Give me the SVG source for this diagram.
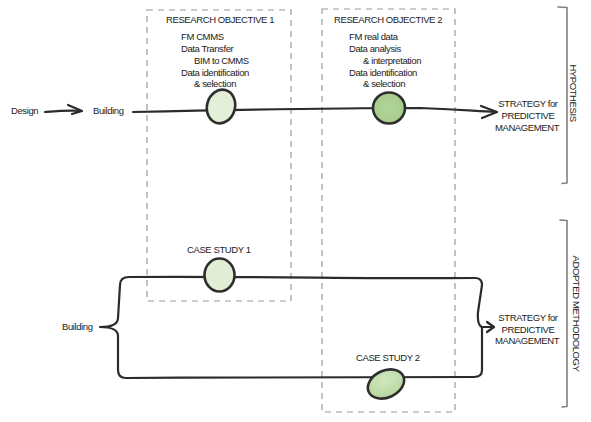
<svg xmlns="http://www.w3.org/2000/svg" width="591" height="422" viewBox="0 0 591 422">
<defs>
<style>
text{font-family:"Liberation Sans",Arial,Helvetica,sans-serif;font-size:9.5px;letter-spacing:-0.4px;fill:#222}
.mid{text-anchor:middle}
.dash{fill:none;stroke:#9a9a9a;stroke-width:1.2;stroke-dasharray:6 5}
.ln{fill:none;stroke:#2b2b2b;stroke-width:2.2;stroke-linecap:round;stroke-linejoin:round}
.br{fill:none;stroke:#808080;stroke-width:1.6;stroke-linecap:round;stroke-linejoin:round}
.node{stroke:#2e2e2e;stroke-width:2.6}
</style>
<radialGradient id="g1" cx="0.5" cy="0.5" r="0.6">
<stop offset="0" stop-color="#b2d59a"/>
<stop offset="1" stop-color="#a6cb8a"/>
</radialGradient>
<radialGradient id="g2" cx="0.55" cy="0.35" r="0.7">
<stop offset="0" stop-color="#d2e8c0"/>
<stop offset="1" stop-color="#b3d59b"/>
</radialGradient>
</defs>
<rect width="591" height="422" fill="#ffffff"/>

<g id="objective1">
<rect class="dash" x="147" y="10" width="144" height="291"/>
<text x="166" y="23">RESEARCH OBJECTIVE 1</text>
<text x="181" y="40">FM CMMS</text>
<text x="181" y="52">Data Transfer</text>
<text x="194" y="64">BIM to CMMS</text>
<text x="181" y="76">Data identification</text>
<text x="194" y="87">&amp; selection</text>
</g>

<g id="objective2">
<rect class="dash" x="322" y="9" width="133" height="403"/>
<text x="334" y="23">RESEARCH OBJECTIVE 2</text>
<text x="349" y="40">FM real data</text>
<text x="349" y="52">Data analysis</text>
<text x="363" y="64">&amp; interpretation</text>
<text x="349" y="76">Data identification</text>
<text x="363" y="87">&amp; selection</text>
</g>

<g id="connectors">
<path class="ln" d="M45,112 C58,111 70,110 81,111"/>
<path class="ln" d="M68,105 L82,111 L72,114"/>
<path class="ln" d="M133,112 C220,110 320,108 420,108 C450,109 475,111 495,112"/>
<path class="ln" stroke-width="2.6" d="M481,106 L497,112 L482,118"/>
<path class="ln" d="M100,327 Q118,327 118,318 L120,285 Q120,277 129,277 C250,276 380,279 475,278 Q482,278 482,285 L478,312 Q477,325 482,327 Q482,331 482,340 L482,370 Q482,377 474,377 C380,378 250,377 126,378 Q118,378 118,370 L118,336 Q118,327 100,327"/>
<path class="ln" d="M482,327 L493,327"/>
<path class="ln" d="M487,322 L494,327 L487,332"/>
</g>

<g id="design">
<text x="11" y="114">Design</text>
</g>
<g id="building-top">
<text x="93" y="114">Building</text>
</g>
<g id="building-bottom">
<text x="62" y="330">Building</text>
</g>

<g id="node-ro1">
<ellipse class="node" cx="221" cy="106.5" rx="14" ry="17" transform="rotate(15 221 106.5)" fill="#e3efd8"/>
</g>
<g id="node-ro2">
<ellipse class="node" cx="389" cy="108" rx="16" ry="15.5" fill="url(#g1)"/>
</g>

<g id="case1">
<text x="187" y="253">CASE STUDY 1</text>
<ellipse class="node" cx="219.5" cy="275" rx="15" ry="16.5" fill="#e1eed5"/>
</g>
<g id="case2">
<text x="356" y="361">CASE STUDY 2</text>
<ellipse class="node" cx="386" cy="384" rx="19" ry="13.5" transform="rotate(-25 386 384)" fill="url(#g2)"/>
</g>

<g id="strategy-top">
<text class="mid" x="528" y="107">STRATEGY for</text>
<text class="mid" x="528" y="119">PREDICTIVE</text>
<text class="mid" x="527" y="131">MANAGEMENT</text>
</g>
<g id="strategy-bottom">
<text class="mid" x="528" y="321">STRATEGY for</text>
<text class="mid" x="528" y="333">PREDICTIVE</text>
<text class="mid" x="527" y="344">MANAGEMENT</text>
</g>

<g id="hypothesis">
<path class="br" d="M558,7 L567,7.5 L567,183 L562,183.5"/>
<text class="mid" transform="translate(570,93) rotate(90)">HYPOTHESIS</text>
</g>
<g id="adopted-methodology">
<path class="br" d="M560,220 L567,220.5 L567,406.5 L562,407"/>
<text class="mid" transform="translate(573,313.5) rotate(90)">ADOPTED METHODOLOGY</text>
</g>
</svg>
